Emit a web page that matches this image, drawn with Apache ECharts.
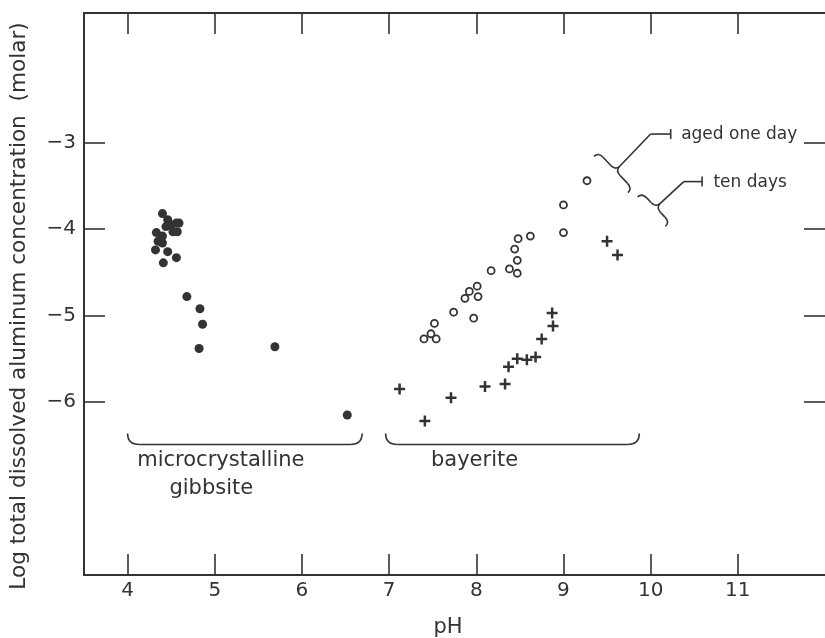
<!DOCTYPE html>
<html>
<head>
<meta charset="utf-8">
<script src="https://cdn.jsdelivr.net/npm/echarts@6/dist/echarts.min.js"></script>
<style>
html,body{margin:0;padding:0;background:#fff;}
#chart{width:825px;height:638px;}
</style>
</head>
<body>
<div id="chart"></div>
<script>
// ---- data (pH, log total dissolved Al, molar) ----
const xTicks = [4, 5, 6, 7, 8, 9, 10, 11];
const yTicks = [-6, -5, -4, -3];
const gibbsite = [
  [4.40,-3.82],[4.44,-3.97],[4.50,-3.95],[4.56,-3.93],[4.59,-3.93],[4.46,-3.89],
  [4.52,-4.03],[4.57,-4.03],[4.33,-4.04],[4.40,-4.08],[4.35,-4.14],[4.40,-4.16],
  [4.32,-4.24],[4.46,-4.26],[4.56,-4.33],[4.41,-4.39],[4.68,-4.78],[4.83,-4.92],
  [4.86,-5.10],[4.82,-5.38],[5.69,-5.36],[6.52,-6.15]
];
const bayeriteOneDay = [
  [7.40,-5.27],[7.48,-5.21],[7.54,-5.27],[7.52,-5.09],[7.74,-4.96],[7.97,-5.03],
  [7.87,-4.80],[7.92,-4.72],[8.01,-4.66],[8.02,-4.78],[8.17,-4.48],[8.38,-4.46],
  [8.47,-4.51],[8.47,-4.36],[8.44,-4.23],[8.48,-4.11],[8.62,-4.08],[9.00,-4.04],
  [9.00,-3.72],[9.27,-3.44]
];
const bayeriteTenDays = [
  [7.12,-5.85],[7.41,-6.22],[7.71,-5.95],[8.10,-5.82],[8.33,-5.79],[8.37,-5.59],
  [8.47,-5.50],[8.58,-5.51],[8.68,-5.48],[8.75,-5.27],[8.88,-5.12],[8.87,-4.97],
  [9.50,-4.14],[9.62,-4.30]
];
// annotation anchors (data coordinates)
const gibbsiteBrace = [[4.00,-6.49],[6.69,-6.49]];
const bayeriteBrace = [[6.96,-6.49],[9.87,-6.49]];
const oneDayBrace = [[9.40,-3.11],[9.79,-3.53]];
const oneDayLeader = [[10.00,-2.90],[10.23,-2.90]];
const tenDaysBrace = [[9.90,-3.58],[10.22,-3.92]];
const tenDaysLeader = [[10.38,-3.45],[10.59,-3.45]];
const labelTexts = ['microcrystalline', 'gibbsite', 'bayerite', 'aged one day', 'ten days'];
const labelAnchors = [[5.07,-6.68],[4.96,-7.00],[7.98,-6.68],[10.35,-2.91],[10.72,-3.46]];

const ink = '#333333';
const FONT = '"DejaVu Sans", "Liberation Sans", sans-serif';
const chart = echarts.init(document.getElementById('chart'), null, {renderer: 'canvas'});

function xAxisDef(pos, showLabel) {
  return {
    type: 'value', position: pos, min: 3.5, max: 12,
    axisLine: {show: true, onZero: false, lineStyle: {color: ink, width: 2}},
    axisTick: {show: true, inside: true, length: 21, customValues: xTicks, lineStyle: {color: ink, width: 1.6}},
    axisLabel: {show: showLabel, customValues: xTicks, color: ink, fontSize: 20, fontFamily: FONT, margin: 6},
    splitLine: {show: false}
  };
}
function yAxisDef(pos, showLabel, showLine) {
  return {
    type: 'value', position: pos, min: -8, max: -1.5,
    axisLine: {show: showLine, onZero: false, lineStyle: {color: ink, width: 2}},
    axisTick: {show: true, inside: true, length: 21, customValues: yTicks, lineStyle: {color: ink, width: 1.6}},
    axisLabel: {show: showLabel, customValues: yTicks, color: ink, fontSize: 20, fontFamily: FONT, margin: 8,
      formatter: v => '\u2212' + Math.abs(v)},
    splitLine: {show: false}
  };
}

const plusPath = 'path://M4.25,0H6.75V4.25H11V6.75H6.75V11H4.25V6.75H0V4.25H4.25Z';

chart.setOption({
  animation: false,
  backgroundColor: '#fff',
  grid: {left: 84, top: 13, width: 745, height: 562, containLabel: false},
  xAxis: [xAxisDef('bottom', true), xAxisDef('top', false)],
  yAxis: [yAxisDef('left', true, true), yAxisDef('right', false, false)],
  series: [
    {name: 'microcrystalline gibbsite', type: 'scatter', xAxisIndex: 0, yAxisIndex: 0,
     data: gibbsite, symbol: 'circle', symbolSize: 9, itemStyle: {color: ink, opacity: 1}},
    {name: 'bayerite, aged one day', type: 'scatter', xAxisIndex: 0, yAxisIndex: 0,
     data: bayeriteOneDay, symbol: 'circle', symbolSize: 7,
     itemStyle: {color: '#fff', borderColor: ink, borderWidth: 1.8, opacity: 1}},
    {name: 'bayerite, ten days', type: 'scatter', xAxisIndex: 0, yAxisIndex: 0,
     data: bayeriteTenDays, symbol: plusPath, symbolSize: 11, itemStyle: {color: ink, opacity: 1}}
  ]
});

function px(p) { return chart.convertToPixel({gridIndex: 0}, p); }
const lineStyle = {stroke: ink, fill: null, lineWidth: 1.6};
function seg(a, b) {
  return {type: 'line', silent: true, shape: {x1: a[0], y1: a[1], x2: b[0], y2: b[1]}, style: lineStyle};
}
function quad(a, c, b) {
  return {type: 'bezierCurve', silent: true,
    shape: {x1: a[0], y1: a[1], x2: b[0], y2: b[1], cpx1: c[0], cpy1: c[1]}, style: lineStyle};
}
// brace between two data points; sign chooses which side the cusp points to
function brace(a, b, sign, h, r, cusp, out) {
  const p1 = px(a), p2 = px(b);
  const dx = p2[0] - p1[0], dy = p2[1] - p1[1];
  const L = Math.hypot(dx, dy);
  const ux = dx / L, uy = dy / L;
  const nx = sign * uy, ny = -sign * ux;
  const m = [(p1[0] + p2[0]) / 2, (p1[1] + p2[1]) / 2];
  const P = (base, su, sn) => [base[0] + ux * su + nx * sn, base[1] + uy * su + ny * sn];
  out.push(quad(P(p1, 0, -h), p1, P(p1, r, 0)));
  let tip = null;
  if (cusp) {
    tip = P(m, 0, h);
    out.push(seg(P(p1, r, 0), P(m, -r, 0)));
    out.push(quad(P(m, -r, 0), m, tip));
    out.push(quad(tip, m, P(m, r, 0)));
    out.push(seg(P(m, r, 0), P(p2, -r, 0)));
  } else {
    out.push(seg(P(p1, r, 0), P(p2, -r, 0)));
  }
  out.push(quad(P(p2, -r, 0), p2, P(p2, 0, -h)));
  return tip;
}

function drawAnnotations() {
  const g = [];
  brace(gibbsiteBrace[0], gibbsiteBrace[1], -1, 11, 12, false, g);
  brace(bayeriteBrace[0], bayeriteBrace[1], -1, 11, 12, false, g);
  [[oneDayBrace, oneDayLeader], [tenDaysBrace, tenDaysLeader]].forEach(function (pair) {
    const tip = brace(pair[0][0], pair[0][1], 1, 6, 7, true, g);
    const k = px(pair[1][0]), e = px(pair[1][1]);
    g.push(seg(tip, k));
    g.push(seg(k, e));
    g.push(seg([e[0], e[1] - 5], [e[0], e[1] + 5]));
  });
  labelTexts.forEach(function (t, i) {
    const p = px(labelAnchors[i]);
    const small = i >= 3;
    g.push({type: 'text', x: p[0], y: p[1], silent: true,
      style: {text: t, fill: ink, font: (small ? 17 : 21) + 'px ' + FONT,
        align: small ? 'left' : 'center', textAlign: small ? 'left' : 'center',
        verticalAlign: 'middle', textVerticalAlign: 'middle'}});
  });
  // axis titles
  g.push({type: 'text', x: 448, y: 628, silent: true,
    style: {text: 'pH', fill: ink, font: '21px ' + FONT, align: 'center', textAlign: 'center',
      verticalAlign: 'middle', textVerticalAlign: 'middle'}});
  g.push({type: 'text', x: 19, y: 306, rotation: Math.PI / 2, silent: true,
    style: {text: 'Log total dissolved aluminum concentration  (molar)', fill: ink, font: '21.6px ' + FONT,
      align: 'center', textAlign: 'center', verticalAlign: 'middle', textVerticalAlign: 'middle'}});
  chart.setOption({graphic: g});
}
drawAnnotations();
</script>
</body>
</html>
